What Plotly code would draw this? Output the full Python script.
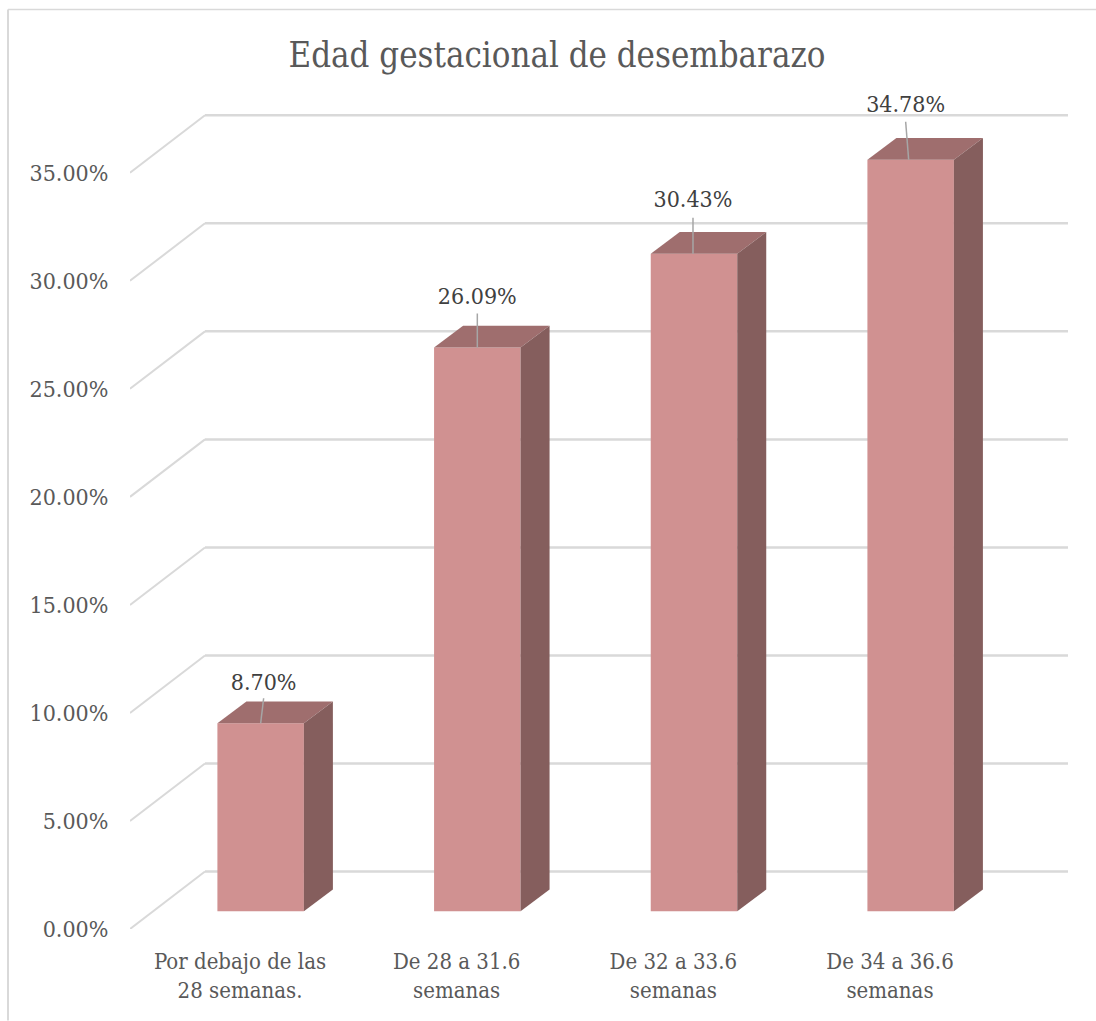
import plotly.graph_objects as go

# data
categories = ["Por debajo de las<br>28 semanas.", "De 28 a 31.6<br>semanas", "De 32 a 33.6<br>semanas", "De 34 a 36.6<br>semanas"]
values = [8.70, 26.09, 30.43, 34.78]
y_ticks = [0, 5, 10, 15, 20, 25, 30, 35]
title_text = "Edad gestacional de desembarazo"

# page geometry, in pixels
W, H = 1096, 1021
left, right, top, bottom = 130, 1068, 80, 929.5
px_y = 21.62      # pixels per percent point
px_x = 216.67     # pixels per category
zero_x = 240      # pixel of the first category label

font_name = "DejaVu Serif Condensed"
grid_color = "#D9D9D9"
front_color = "#D09191"
top_color = "#9F6E6E"
side_color = "#855E5D"

x_range = [(left - zero_x) / px_x, (right - zero_x) / px_x]
y_range = [0, (bottom - top) / px_y]

# 3d offsets converted to axis units
wall_dx, wall_dy = 75 / px_x, 57.5 / px_y
depth_dx, depth_dy = 29 / px_x, 21.7 / px_y
bar_center, bar_width = 20.65 / px_x, 86.5 / px_x
bar_base = (bottom - 911.7) / px_y

# where each data label and its leader sit relative to the bar
label_dx = [3, 0, -1, -5]
label_dy = [39, 49, 52, 53]
leader_top_dx = [3, 0, -1, -5]
leader_top_dy = [25, 34, 36, 38]
leader_low_dx = [0, 0, -1, -2]


def paper_x(px):
    return (px - left) / (right - left)


def paper_y(px):
    return (bottom - px) / (bottom - top)


fig = go.Figure()

xs = [i + bar_center for i in range(len(values))]
fig.add_trace(go.Bar(x=xs, y=values, base=bar_base, width=bar_width, marker=dict(color=front_color, line=dict(width=0)), hoverinfo="skip"))

for x, v in zip(xs, values):
    x0, x1 = x - bar_width / 2, x + bar_width / 2
    y0, y1 = bar_base, bar_base + v
    fig.add_trace(go.Scatter(
        x=[x0, x1, x1 + depth_dx, x0 + depth_dx, x0], y=[y1, y1, y1 + depth_dy, y1 + depth_dy, y1],
        mode="lines", line=dict(width=0), fill="toself", fillcolor=top_color, hoverinfo="skip"))
    fig.add_trace(go.Scatter(
        x=[x1, x1 + depth_dx, x1 + depth_dx, x1, x1], y=[y1, y1 + depth_dy, y0 + depth_dy, y0, y1],
        mode="lines", line=dict(width=0), fill="toself", fillcolor=side_color, hoverinfo="skip"))

for i, (x, v) in enumerate(zip(xs, values)):
    y1 = bar_base + v
    fig.add_trace(go.Scatter(
        x=[x + leader_low_dx[i] / px_x, x + leader_top_dx[i] / px_x], y=[y1, y1 + leader_top_dy[i] / px_y],
        mode="lines", line=dict(color="#A6A6A6", width=1.5), hoverinfo="skip"))

fig.add_trace(go.Scatter(
    x=[x + dx / px_x for x, dx in zip(xs, label_dx)],
    y=[bar_base + v + dy / px_y for v, dy in zip(values, label_dy)],
    text=[f"{v:.2f}%" for v in values], mode="text", textposition="middle center",
    textfont=dict(family=font_name, size=23, color="#404040"), hoverinfo="skip"))

# walls behind the bars
shapes = []
for t in y_ticks:
    shapes.append(dict(type="line", xref="x", yref="y", layer="below", x0=x_range[0], y0=t, x1=x_range[0] + wall_dx, y1=t + wall_dy,
                       line=dict(color=grid_color, width=2)))
    shapes.append(dict(type="line", xref="x", yref="y", layer="below", x0=x_range[0] + wall_dx, y0=t + wall_dy, x1=x_range[1], y1=t + wall_dy,
                       line=dict(color=grid_color, width=2.5)))

# chart frame, open at the bottom and at the right
shapes.append(dict(type="line", xref="paper", yref="paper", x0=paper_x(8), y0=paper_y(9.5), x1=paper_x(W), y1=paper_y(9.5), line=dict(color=grid_color, width=1.5)))
shapes.append(dict(type="line", xref="paper", yref="paper", x0=paper_x(8), y0=paper_y(9.5), x1=paper_x(8), y1=paper_y(H), line=dict(color=grid_color, width=2)))

fig.update_layout(
    width=W, height=H, showlegend=False, shapes=shapes,
    margin=dict(l=left, r=W - right, t=top, b=H - bottom, pad=0),
    paper_bgcolor="white", plot_bgcolor="white",
    title=dict(text=title_text, x=557 / W, xanchor="center", y=1 - 55 / H, yanchor="middle",
               font=dict(family=font_name, size=34.5, color="#595959")),
)
fig.update_xaxes(range=x_range, tickmode="array", tickvals=list(range(len(categories))), ticktext=categories,
                 showgrid=False, zeroline=False, showline=False, ticks="outside", ticklen=13, tickcolor="rgba(0,0,0,0)",
                 tickfont=dict(family=font_name, size=22, color="#595959"))
fig.update_yaxes(range=y_range, tickmode="array", tickvals=y_ticks, ticktext=[f"{t:.2f}%" for t in y_ticks],
                 showgrid=False, zeroline=False, showline=False, ticks="outside", ticklen=16, tickcolor="rgba(0,0,0,0)",
                 tickfont=dict(family=font_name, size=23, color="#595959"))

fig.write_html("out.html", config=dict(displayModeBar=False),
               post_script="document.body.style.margin='0';document.body.style.overflow='hidden';")
